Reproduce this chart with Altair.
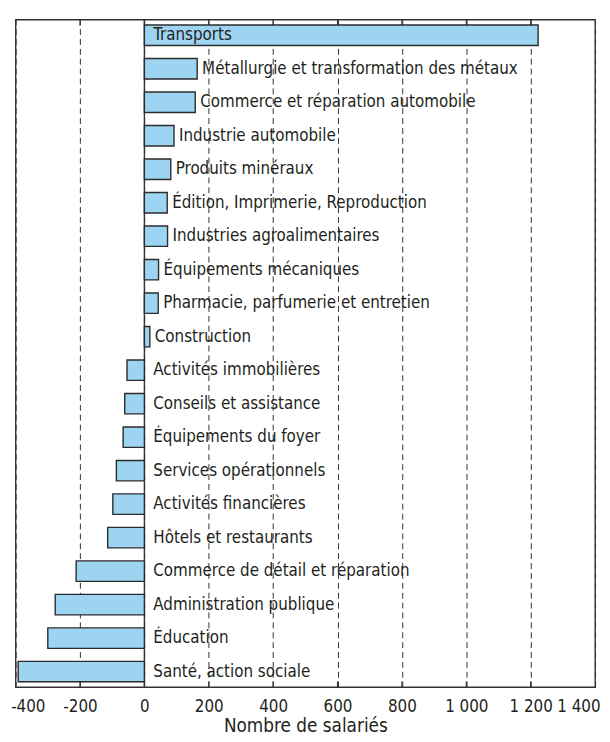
import altair as alt
import pandas as pd

categories = [
    "Transports",
    "Métallurgie et transformation des métaux",
    "Commerce et réparation automobile",
    "Industrie automobile",
    "Produits minéraux",
    "Édition, Imprimerie, Reproduction",
    "Industries agroalimentaires",
    "Équipements mécaniques",
    "Pharmacie, parfumerie et entretien",
    "Construction",
    "Activités immobilières",
    "Conseils et assistance",
    "Équipements du foyer",
    "Services opérationnels",
    "Activités financières",
    "Hôtels et restaurants",
    "Commerce de détail et réparation",
    "Administration publique",
    "Éducation",
    "Santé, action sociale",
]
values = [1223, 164, 158, 92, 82, 71, 72, 44, 43, 17,
          -54, -61, -66, -87, -98, -114, -212, -277, -300, -392]
tick_values = [-400, -200, 0, 200, 400, 600, 800, 1000, 1200, 1400]
inner_ticks = [-200, 0, 200, 400, 600, 800, 1000, 1200]

FONT = "DejaVu Sans Condensed, Roboto, Liberation Sans, sans-serif"
W, H = 586, 675

df = pd.DataFrame({"cat": categories, "val": values})
df["lx"] = [v if 0 < v < 1000 else 0 for v in values]
df["outside"] = [0 < v < 1000 for v in values]

x_scale = alt.Scale(domain=[-400, 1400], nice=False, zero=False)
y_scale = alt.Scale(domain=categories, paddingInner=0.39, paddingOuter=0.16)

label_expr = ("datum.value >= 1000 ? floor(datum.value/1000) + ' ' + "
              "slice('00' + (datum.value % 1000), -3) : '' + datum.value")

base = alt.Chart(df)

bars = base.mark_bar(color="#9dd4f1", stroke="#2b2b2b", strokeWidth=1.4).encode(
    x=alt.X("val:Q", scale=x_scale,
            axis=alt.Axis(values=tick_values, title="Nombre de salariés",
                          labelExpr=label_expr, grid=True, gridDash=[6, 4],
                          gridColor="#333333", gridWidth=1, ticks=False,
                          domain=False, labelFont=FONT, labelFontSize=17,
                          labelColor="#231f20", labelPadding=12,
                          labelFlush=True, labelFlushOffset=5,
                          titleFont=FONT, titleFontSize=19,
                          titleFontWeight="normal", titleColor="#231f20",
                          titlePadding=2)),
    x2=alt.datum(0),
    y=alt.Y("cat:N", scale=y_scale, axis=None, sort=categories),
)

zero = alt.Chart(pd.DataFrame({"z": [0]})).mark_rule(
    color="#333333", strokeWidth=1.4
).encode(x=alt.X("z:Q", scale=x_scale))

tk = pd.DataFrame({"t": inner_ticks})
top_ticks = alt.Chart(tk).mark_rule(color="#333333", strokeWidth=1.2).encode(
    x=alt.X("t:Q", scale=x_scale), y=alt.value(0), y2=alt.value(6))
bot_ticks = alt.Chart(tk).mark_rule(color="#333333", strokeWidth=1.2).encode(
    x=alt.X("t:Q", scale=x_scale), y=alt.value(H - 6), y2=alt.value(H))

labels_out = base.transform_filter("datum.outside").mark_text(
    align="left", baseline="middle", dx=5, font=FONT, fontSize=17,
    color="#231f20"
).encode(x=alt.X("lx:Q", scale=x_scale),
         y=alt.Y("cat:N", scale=y_scale, sort=categories), text="cat:N")

labels_in = base.transform_filter("!datum.outside").mark_text(
    align="left", baseline="middle", dx=9, font=FONT, fontSize=17,
    color="#231f20"
).encode(x=alt.X("lx:Q", scale=x_scale),
         y=alt.Y("cat:N", scale=y_scale, sort=categories), text="cat:N")

chart = alt.layer(zero, top_ticks, bot_ticks, bars, labels_out, labels_in).properties(
    width=W, height=H,
    autosize=alt.AutoSizeParams(type="none"),
    padding={"left": 7.7, "top": 7.7, "right": 7, "bottom": 51},
).configure_view(stroke="#333333", strokeWidth=1.4)

chart.save("out.html", embed_options={"renderer": "svg", "actions": False})
